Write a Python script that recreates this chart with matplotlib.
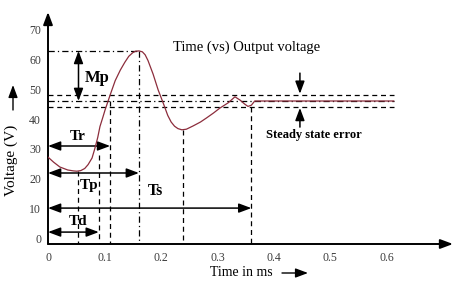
import matplotlib
matplotlib.use("Agg")
import matplotlib.pyplot as plt
from matplotlib.patches import FancyArrowPatch

# -----------------------------
# Data
# -----------------------------
time_ms = [0.0, 0.010, 0.021, 0.035, 0.045, 0.051, 0.058, 0.065, 0.071, 0.078,
           0.083, 0.088, 0.092, 0.097, 0.101, 0.110, 0.119, 0.128, 0.136, 0.143,
           0.150, 0.155, 0.161, 0.167, 0.172, 0.177, 0.181, 0.186, 0.195, 0.204,
           0.212, 0.218, 0.224, 0.230, 0.237, 0.245, 0.257, 0.270, 0.281, 0.293,
           0.304, 0.319, 0.331, 0.340, 0.348, 0.354, 0.360, 0.366, 0.612]
voltage = [27.3, 25.6, 24.0, 23.0, 22.7, 22.6, 22.8, 23.5, 24.8, 27.0,
           30.2, 33.8, 37.5, 40.5, 43.0, 48.0, 52.8, 56.3, 58.9, 60.9,
           62.1, 62.6, 62.7, 62.4, 61.4, 59.5, 57.5, 55.0, 49.7, 45.3,
           41.2, 39.0, 37.6, 36.8, 36.4, 36.6, 37.7, 39.0, 40.4, 42.0,
           43.6, 45.4, 47.4, 46.3, 45.0, 44.2, 44.6, 46.0, 46.0]

x_ticks = [0, 0.1, 0.2, 0.3, 0.4, 0.5, 0.6]
x_tick_labels = ["0", "0.1", "0.2", "0.3", "0.4", "0.5", "0.6"]
y_ticks = [0, 10, 20, 30, 40, 50, 60, 70]

peak_t, peak_v = 0.161, 62.7
dip_t, dip_v = 0.053, 22.6
valley_t, valley_v = 0.239, 36.4
steady_v = 46.0
band_hi, band_lo = 48.1, 44.0
t_delay, t_rise, t_settle = 0.090, 0.110, 0.360
v_delay = 28.0
t_end = 0.612

SERIF = "Liberation Serif"
CURVE = "#8c2d3c"

fig = plt.figure(figsize=(4.62, 2.85), dpi=100)
ax = fig.add_axes([48 / 462, 41 / 285, 405 / 462, 232 / 285])
ax.set_xlim(0, 0.717)
ax.set_ylim(-1.67, 75.67)
for s in ax.spines.values():
    s.set_visible(False)
ax.set_xticks(x_ticks)
ax.set_xticklabels(x_tick_labels)
ax.set_yticks(y_ticks)
ax.tick_params(length=0, labelsize=8.5, labelcolor="#3c3c3c", pad=5)
ax.tick_params(axis="x", pad=6)
for lab in ax.get_xticklabels() + ax.get_yticklabels():
    lab.set_fontfamily(SERIF)


def arrow(p0, p1, style="-|>", lw=1.1, scale=10):
    a = FancyArrowPatch(p0, p1, arrowstyle=style + ",head_length=0.75,head_width=0.28",
                        mutation_scale=scale, color="black", lw=lw,
                        shrinkA=0, shrinkB=0, clip_on=False)
    ax.add_patch(a)


# axes with arrowheads
arrow((0, -1.67), (0.717, -1.67), lw=1.4)
arrow((0, -1.67), (0, 75.67), lw=1.4)

dash = dict(color="black", lw=0.9, ls=(0, (4, 3)))
dashdot = dict(color="black", lw=0.9, ls=(0, (5, 2.5, 1, 2.5)))

# horizontal guide lines
ax.plot([0, peak_t], [peak_v, peak_v], **dashdot)
ax.plot([0, t_end], [band_hi, band_hi], **dash)
ax.plot([0, t_end], [steady_v, steady_v], **dashdot)
ax.plot([0, t_end], [band_lo, band_lo], **dash)

# vertical guide lines
ax.plot([dip_t, dip_t], [dip_v, -1.67], **dash)
ax.plot([t_delay, t_delay], [v_delay, -1.67], **dash)
ax.plot([t_rise, t_rise], [steady_v, -1.67], **dash)
ax.plot([peak_t, peak_t], [peak_v, -1.67], **dashdot)
ax.plot([valley_t, valley_t], [valley_v, -1.67], **dash)
ax.plot([t_settle, t_settle], [band_lo, -1.67], **dash)

# response curve
ax.plot(time_ms, voltage, color=CURVE, lw=0.9)

# time spec arrows
arrow((0, 31.0), (t_rise, 31.0), style="<|-|>")
arrow((0, 22.0), (peak_t, 22.0), style="<|-|>")
arrow((0, 10.3), (t_settle, 10.3), style="<|-|>")
arrow((0, 2.3), (t_delay, 2.3), style="<|-|>")
arrow((0.054, peak_v), (0.054, steady_v), style="<|-|>")

# steady state error arrows
arrow((0.446, 55.3), (0.446, band_hi + 0.3))
arrow((0.446, 37.3), (0.446, band_lo - 0.3))

bold = dict(family=SERIF, fontweight="bold", ha="center", va="center")
ax.text(0.0876, 53.8, "Mp", fontsize=12, **bold)
ax.text(0.052, 34.0, "Tr", fontsize=11, **bold)
ax.text(0.0726, 17.7, "Tp", fontsize=11, **bold)
ax.text(0.191, 16.0, "Ts", fontsize=11.5, **bold)
ax.text(0.053, 5.7, "Td", fontsize=11, **bold)
ax.text(0.47, 34.7, "Steady state error", fontsize=9, **bold)

ax.text(0.351, 64.0, "Time (vs) Output voltage", fontsize=10.5, family=SERIF,
        ha="center", va="center")

# axis labels with arrows (figure pixel coordinates)
fig.text(210 / 462, 1 - 272 / 285, "Time in ms", fontsize=10, family=SERIF,
         ha="left", va="center")
fig.add_artist(FancyArrowPatch((282 / 462, 1 - 273 / 285), (308 / 462, 1 - 273 / 285),
                               transform=fig.transFigure,
                               arrowstyle="-|>,head_length=0.75,head_width=0.28",
                               mutation_scale=10, color="black", lw=1.0,
                               shrinkA=0, shrinkB=0))
fig.text(11 / 462, 1 - 160 / 285, "Voltage (V)", fontsize=11, family=SERIF,
         rotation=90, ha="center", va="center")
fig.add_artist(FancyArrowPatch((13 / 462, 1 - 110 / 285), (13 / 462, 1 - 85 / 285),
                               transform=fig.transFigure,
                               arrowstyle="-|>,head_length=0.75,head_width=0.28",
                               mutation_scale=10, color="black", lw=1.0,
                               shrinkA=0, shrinkB=0))

fig.savefig("out.png", dpi=100)
